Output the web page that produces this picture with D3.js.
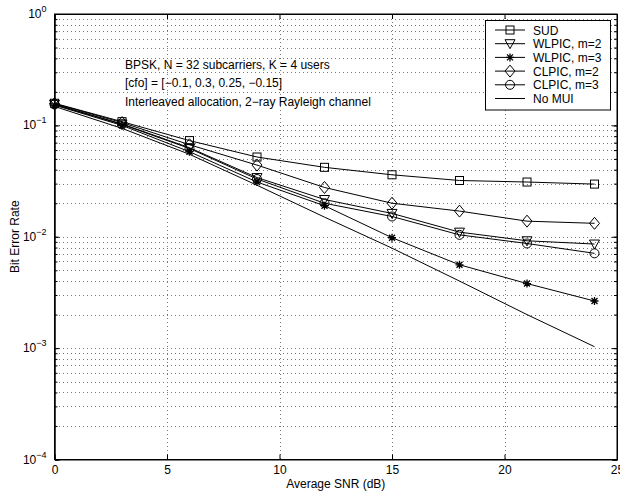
<!DOCTYPE html>
<html>
<head>
<meta charset="utf-8">
<script src="https://cdn.jsdelivr.net/npm/d3@7/dist/d3.min.js"></script>
<style>
  body { margin: 0; background: #fff; }
  text { font-family: "Liberation Sans", Arial, sans-serif; fill: #000; }
</style>
</head>
<body>
<script>
// SNR points (dB)
const snr = [0, 3, 6, 9, 12, 15, 18, 21, 24];

// BER curves
const sud    = [0.158, 0.108, 0.073, 0.052, 0.042, 0.036, 0.032, 0.031, 0.0297];
const wlpic2 = [0.155, 0.103, 0.063, 0.034, 0.0216, 0.0162, 0.011, 0.0092, 0.0086];
const wlpic3 = [0.152, 0.100, 0.058, 0.031, 0.019, 0.0098, 0.0056, 0.0038, 0.00265];
const clpic2 = [0.157, 0.106, 0.067, 0.044, 0.0277, 0.020, 0.017, 0.0138, 0.0132];
const clpic3 = [0.154, 0.102, 0.062, 0.033, 0.020, 0.0152, 0.0104, 0.0087, 0.0071];
const nomui  = [0.148, 0.094, 0.055, 0.029, 0.015, 0.0079, 0.0040, 0.0020, 0.00103];

const seriesNames = ["SUD", "WLPIC, m=2", "WLPIC, m=3", "CLPIC, m=2", "CLPIC, m=3", "No MUI"];
const seriesMarks = ["square", "triangle", "star", "diamond", "circle", "none"];
const seriesVals = [sud, wlpic2, wlpic3, clpic2, clpic3, nomui];

const xTicks = [0, 5, 10, 15, 20, 25];
const yDecades = [-4, -3, -2, -1, 0];
const notes = ["BPSK, N = 32 subcarriers, K = 4 users",
               "[cfo] = [\u22120.1, 0.3, 0.25, \u22120.15]",
               "Interleaved allocation, 2\u2212ray Rayleigh channel"];

const w = 620, h = 494;
const L = 54.5, R = 617, T = 14, B = 459.5;

const x = d3.scaleLinear().domain([0, 25]).range([L, R]);
const y = d3.scaleLog().domain([1e-4, 1]).range([B, T]);

const svg = d3.select("body").append("svg").attr("width", w).attr("height", h);

// minor + major y grid values
let yGrid = [];
yDecades.forEach(e => {
  if (e < 0) for (let k = 1; k <= 9; k++) yGrid.push(k * Math.pow(10, e));
});
yGrid = yGrid.filter(v => v > 1e-4 && v < 1);

const grid = svg.append("g").attr("stroke", "#777").attr("stroke-width", 1)
  .attr("stroke-dasharray", "1,3").attr("shape-rendering", "crispEdges");
grid.selectAll(".gy").data(yGrid).enter().append("line")
  .attr("x1", L).attr("x2", R)
  .attr("y1", d => Math.round(y(d)) + 0.5).attr("y2", d => Math.round(y(d)) + 0.5);
grid.selectAll(".gx").data(xTicks.slice(1, -1)).enter().append("line")
  .attr("y1", T).attr("y2", B)
  .attr("x1", d => Math.round(x(d)) + 0.5).attr("x2", d => Math.round(x(d)) + 0.5);

// axes (ticks inside)
const xAxis = d3.axisBottom(x).tickValues(xTicks).tickSize(-5).tickPadding(6).tickFormat(d3.format("d"));
const xTop = d3.axisTop(x).tickValues(xTicks).tickSize(-5).tickFormat("");
svg.append("g").attr("transform", "translate(0," + B + ")").call(xAxis);
svg.append("g").attr("transform", "translate(0," + T + ")").call(xTop);

const yMinor = d3.axisLeft(y).tickValues(yGrid).tickSize(-3).tickFormat("");
const yMinorR = d3.axisRight(y).tickValues(yGrid).tickSize(-3).tickFormat("");
const yMajor = d3.axisLeft(y).tickValues(yDecades.map(e => Math.pow(10, e))).tickSize(-5).tickFormat("");
const yMajorR = d3.axisRight(y).tickValues(yDecades.map(e => Math.pow(10, e))).tickSize(-5).tickFormat("");
svg.append("g").attr("transform", "translate(" + L + ",0)").call(yMinor);
svg.append("g").attr("transform", "translate(" + R + ",0)").call(yMinorR);
svg.append("g").attr("transform", "translate(" + L + ",0)").call(yMajor);
svg.append("g").attr("transform", "translate(" + R + ",0)").call(yMajorR);

svg.selectAll(".domain").attr("stroke", "#000");
svg.selectAll(".tick line").attr("stroke", "#000");
svg.selectAll(".tick text").attr("font-size", 12).style("font-family", "Liberation Sans, Arial, sans-serif");

// y tick labels 10^e
yDecades.forEach(e => {
  const t = svg.append("text").attr("x", L - 8).attr("y", y(Math.pow(10, e)) + 4)
    .attr("text-anchor", "end").attr("font-size", 12);
  t.append("tspan").text("10");
  t.append("tspan").attr("dy", -6).attr("font-size", 9).text(e === 0 ? "0" : "\u2212" + (-e));
});

// frame
svg.append("rect").attr("x", L).attr("y", T).attr("width", R - L).attr("height", B - T)
  .attr("fill", "none").attr("stroke", "#000").attr("stroke-width", 1);

// marker drawing
function marker(g, kind, cx, cy) {
  const s = 4;
  if (kind === "square") {
    g.append("rect").attr("x", cx - s).attr("y", cy - s).attr("width", 2 * s).attr("height", 2 * s)
      .attr("fill", "none").attr("stroke", "#000");
  } else if (kind === "triangle") {
    g.append("path").attr("d", `M${cx - 5},${cy - 4}L${cx + 5},${cy - 4}L${cx},${cy + 5}Z`)
      .attr("fill", "none").attr("stroke", "#000");
  } else if (kind === "diamond") {
    g.append("path").attr("d", `M${cx},${cy - 6}L${cx + 5},${cy}L${cx},${cy + 6}L${cx - 5},${cy}Z`)
      .attr("fill", "none").attr("stroke", "#000");
  } else if (kind === "circle") {
    g.append("circle").attr("cx", cx).attr("cy", cy).attr("r", 4.5)
      .attr("fill", "none").attr("stroke", "#000");
  } else if (kind === "star") {
    g.append("path").attr("d",
      `M${cx - 4},${cy}L${cx + 4},${cy}M${cx},${cy - 4}L${cx},${cy + 4}` +
      `M${cx - 3},${cy - 3}L${cx + 3},${cy + 3}M${cx - 3},${cy + 3}L${cx + 3},${cy - 3}`)
      .attr("stroke", "#000").attr("stroke-width", 1.3);
  }
}

const line = d3.line().x((d, i) => x(snr[i])).y(d => y(d));
seriesVals.forEach((vals, si) => {
  const g = svg.append("g");
  g.append("path").attr("d", line(vals)).attr("fill", "none").attr("stroke", "#000").attr("stroke-width", 1);
  vals.forEach((v, i) => marker(g, seriesMarks[si], x(snr[i]), y(v)));
});

// notes
notes.forEach((n, i) => {
  svg.append("text").attr("x", 125).attr("y", 69 + i * 18.3).attr("font-size", 12).text(n);
});

// legend
const lg = svg.append("g");
lg.append("rect").attr("x", 485.5).attr("y", 20.5).attr("width", 125).attr("height", 89.5)
  .attr("fill", "#fff").attr("stroke", "#000");
seriesNames.forEach((n, i) => {
  const ly = 30 + i * 13.7;
  lg.append("line").attr("x1", 495).attr("x2", 525).attr("y1", ly).attr("y2", ly).attr("stroke", "#000");
  marker(lg, seriesMarks[i], 510, ly);
  lg.append("text").attr("x", 533).attr("y", ly + 4.5).attr("font-size", 12).text(n);
});

// axis labels
svg.append("text").attr("x", x(12.5)).attr("y", 488).attr("text-anchor", "middle").attr("font-size", 12)
  .text("Average SNR (dB)");
svg.append("text").attr("transform", "translate(19," + ((T + B) / 2) + ") rotate(-90)")
  .attr("text-anchor", "middle").attr("font-size", 12).text("Bit Error Rate");
</script>
</body>
</html>
